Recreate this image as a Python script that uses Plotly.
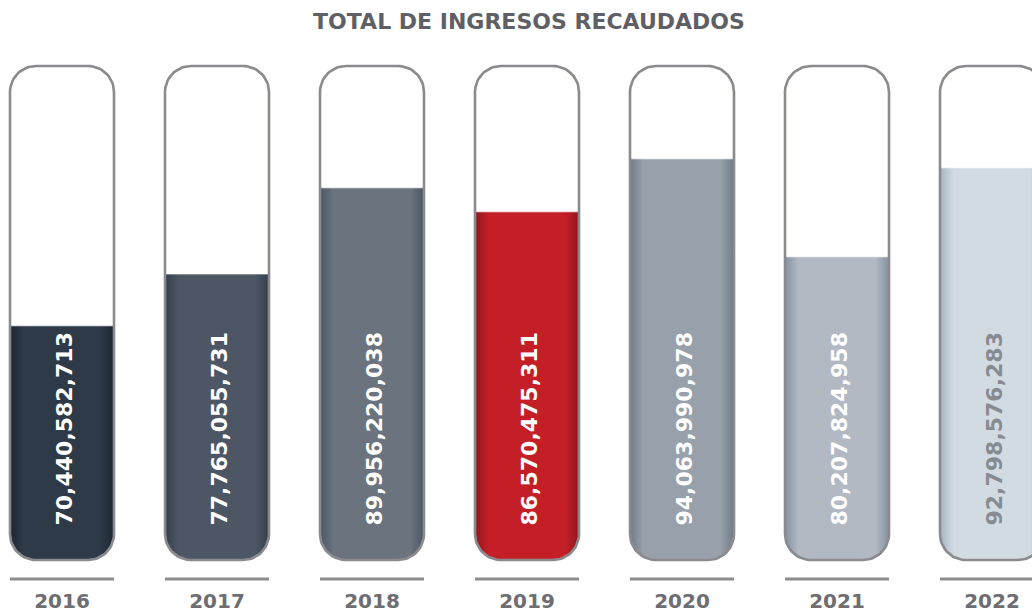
import numpy as np
import plotly.graph_objects as go

# ---- data ----
years = ["2016", "2017", "2018", "2019", "2020", "2021", "2022"]
values = [70440582713, 77765055731, 89956220038, 86570475311, 94063990978, 80207824958, 92798576283]
edge_colors = ["#1c2631", "#353e4b", "#4c5764", "#8e171d", "#6f7b88", "#8592a0", "#a5b4c0"]
center_colors = ["#2e3a47", "#4d5664", "#6a737e", "#c41f27", "#98a1ab", "#b2b9c3", "#d2dbe2"]
text_colors = ["white", "white", "white", "white", "white", "white", "#868b92"]
title_text = "TOTAL DE INGRESOS RECAUDADOS"

# ---- geometry (pixels -> axis units) ----
W, H = 1032, 615
M_T, M_B = 60, 50
PLOT_H = H - M_T - M_B
PX_PER_X = 155.0
X_RANGE = [-62 / PX_PER_X, -62 / PX_PER_X + W / PX_PER_X]
TUBE_BOTTOM = 37.3e9
TUBE_TOP = 107.2e9
PX_PER_Y = 494.0 / (TUBE_TOP - TUBE_BOTTOM)
Y_RANGE = [TUBE_BOTTOM - 5 / PX_PER_Y, TUBE_TOP + 6 / PX_PER_Y]
HALF_W = 52 / PX_PER_X
RX = 26 / PX_PER_X
RY = 26 / PX_PER_Y


def arc(cx, cy, a0, a1, n=18):
    t = np.linspace(a0, a1, n)
    return list(cx + RX * np.cos(t)), list(cy + RY * np.sin(t))


def tube_path(xc, y0, y1, round_top):
    xl, xr = xc - HALF_W, xc + HALF_W
    xs, ys = [], []
    ax, ay = arc(xl + RX, y0 + RY, np.pi, 1.5 * np.pi)
    xs += ax; ys += ay
    ax, ay = arc(xr - RX, y0 + RY, 1.5 * np.pi, 2 * np.pi)
    xs += ax; ys += ay
    if round_top:
        ax, ay = arc(xr - RX, y1 - RY, 0, 0.5 * np.pi)
        xs += ax; ys += ay
        ax, ay = arc(xl + RX, y1 - RY, 0.5 * np.pi, np.pi)
        xs += ax; ys += ay
    else:
        xs += [xr, xl]; ys += [y1, y1]
    xs.append(xs[0]); ys.append(ys[0])
    return xs, ys


fig = go.Figure()

for i, (yr, v) in enumerate(zip(years, values)):
    fx, fy = tube_path(i, TUBE_BOTTOM, v, round_top=False)
    fig.add_trace(go.Scatter(
        x=fx, y=fy, mode="lines", fill="toself",
        line=dict(color="rgba(255,255,255,0.45)", width=1.5),
        fillgradient=dict(
            type="horizontal",
            colorscale=[[0, edge_colors[i]], [0.13, center_colors[i]], [0.5, center_colors[i]],
                        [0.87, center_colors[i]], [1, edge_colors[i]]],
        ),
        hoverinfo="skip", showlegend=False,
    ))

for i, yr in enumerate(years):
    ox, oy = tube_path(i, TUBE_BOTTOM, TUBE_TOP, round_top=True)
    fig.add_trace(go.Scatter(
        x=ox, y=oy, mode="lines",
        line=dict(color="#8a8a8f", width=2.6),
        hoverinfo="skip", showlegend=False,
    ))

annotations = []
for i, v in enumerate(values):
    annotations.append(dict(
        x=i + 2 / PX_PER_X, y=TUBE_BOTTOM + 32 / PX_PER_Y, xref="x", yref="y",
        text=f"{v:,}", textangle=-90, showarrow=False,
        xanchor="center", yanchor="bottom",
        font=dict(family="DejaVu Sans", size=22, color=text_colors[i], weight="bold"),
    ))

shapes = []
line_y = -14 / PLOT_H
for i in range(len(years)):
    shapes.append(dict(
        type="line", xref="x", yref="paper",
        x0=i - HALF_W, x1=i + HALF_W, y0=line_y, y1=line_y,
        line=dict(color="#8c8c90", width=3),
    ))

fig.update_layout(
    width=W, height=H,
    margin=dict(l=0, r=0, t=M_T, b=M_B),
    paper_bgcolor="white", plot_bgcolor="white",
    title=dict(
        text=title_text, x=529 / W, xanchor="center", y=1 - 21 / H, yanchor="middle",
        yref="container",
        font=dict(family="DejaVu Sans", size=22, color="#5f5f66", weight="bold"),
    ),
    xaxis=dict(
        range=X_RANGE, showgrid=False, zeroline=False, showline=False,
        tickmode="array", tickvals=list(range(len(years))), ticktext=years,
        ticks="", ticklabelstandoff=22,
        tickfont=dict(family="DejaVu Sans", size=20, color="#6d6d72", weight="bold"),
    ),
    yaxis=dict(range=Y_RANGE, visible=False, showgrid=False, zeroline=False),
    annotations=annotations,
    shapes=shapes,
    showlegend=False,
)

fig.write_html(
    "out.html",
    config={"displayModeBar": False, "staticPlot": True},
    post_script="document.body.style.margin='0';document.body.style.overflow='hidden';",
)
